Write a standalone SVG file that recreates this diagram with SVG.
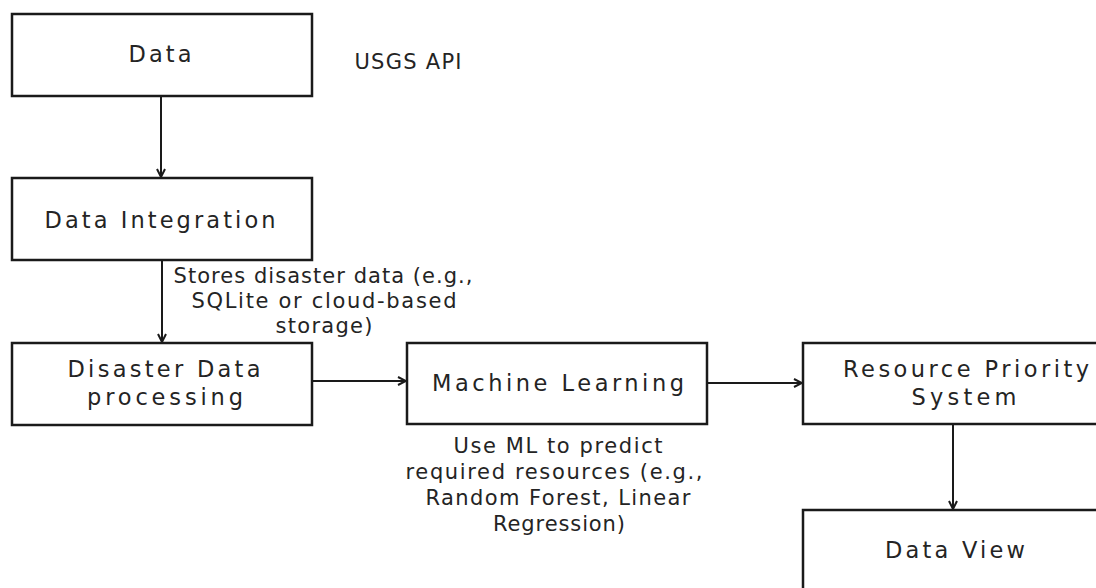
<svg xmlns="http://www.w3.org/2000/svg" width="1096" height="588" viewBox="0 0 1096 588">
<defs>
<marker id="ah" viewBox="0 0 10 10" refX="9" refY="5" markerWidth="10" markerHeight="10" markerUnits="userSpaceOnUse" orient="auto">
<path d="M1,1 L9,5 L1,9" fill="none" stroke="#1a1a1a" stroke-width="2"/>
</marker>
<style>
.box{fill:#fff;stroke:#1a1a1a;stroke-width:2.5}
.t{font-family:"DejaVu Sans","Liberation Sans",sans-serif;fill:#242424;text-anchor:middle}
.n{font-size:22.5px}
.l{font-size:21px}
.c{fill:none;stroke:#1a1a1a;stroke-width:2}
</style>
</defs>
<rect width="1096" height="588" fill="#fff"/>
<g id="connectors">
<line class="c" x1="161" y1="96" x2="161" y2="177" marker-end="url(#ah)"/>
<line class="c" x1="162" y1="260" x2="162" y2="342" marker-end="url(#ah)"/>
<line class="c" x1="312" y1="381" x2="406" y2="381" marker-end="url(#ah)"/>
<line class="c" x1="707" y1="383" x2="802" y2="383" marker-end="url(#ah)"/>
<line class="c" x1="953" y1="424" x2="953" y2="509" marker-end="url(#ah)"/>
</g>
<g id="n-data">
<rect class="box" x="12" y="14" width="300" height="82"/>
<text class="t n" x="160" y="62" textLength="63" lengthAdjust="spacing">Data</text>
</g>
<g id="n-usgs">
<text class="t l" x="408" y="69" textLength="107" lengthAdjust="spacing">USGS API</text>
</g>
<g id="n-integration">
<rect class="box" x="12" y="178" width="300" height="82"/>
<text class="t n" x="160" y="228" textLength="231" lengthAdjust="spacing">Data Integration</text>
</g>
<g id="n-store-label">
<text class="t l" x="323" y="283" textLength="299" lengthAdjust="spacing">Stores disaster data (e.g.,</text>
<text class="t l" x="324" y="308" textLength="265" lengthAdjust="spacing">SQLite or cloud-based</text>
<text class="t l" x="324" y="333" textLength="97" lengthAdjust="spacing">storage)</text>
</g>
<g id="n-processing">
<rect class="box" x="12" y="343" width="300" height="82"/>
<text class="t n" x="164" y="377" textLength="193" lengthAdjust="spacing">Disaster Data</text>
<text class="t n" x="165" y="405" textLength="156" lengthAdjust="spacing">processing</text>
</g>
<g id="n-ml">
<rect class="box" x="407" y="343" width="300" height="81"/>
<text class="t n" x="558" y="391" textLength="252" lengthAdjust="spacing">Machine Learning</text>
</g>
<g id="n-ml-label">
<text class="t l" x="558" y="453" textLength="209" lengthAdjust="spacing">Use ML to predict</text>
<text class="t l" x="554" y="479" textLength="297" lengthAdjust="spacing">required resources (e.g.,</text>
<text class="t l" x="558" y="505" textLength="265" lengthAdjust="spacing">Random Forest, Linear</text>
<text class="t l" x="559" y="531" textLength="132" lengthAdjust="spacing">Regression)</text>
</g>
<g id="n-priority">
<rect class="box" x="803" y="343" width="310" height="81"/>
<text class="t n" x="966" y="377" textLength="246" lengthAdjust="spacing">Resource Priority</text>
<text class="t n" x="964" y="405" textLength="105" lengthAdjust="spacing">System</text>
</g>
<g id="n-view">
<rect class="box" x="803" y="510" width="310" height="100"/>
<text class="t n" x="955" y="558" textLength="140" lengthAdjust="spacing">Data View</text>
</g>
</svg>
